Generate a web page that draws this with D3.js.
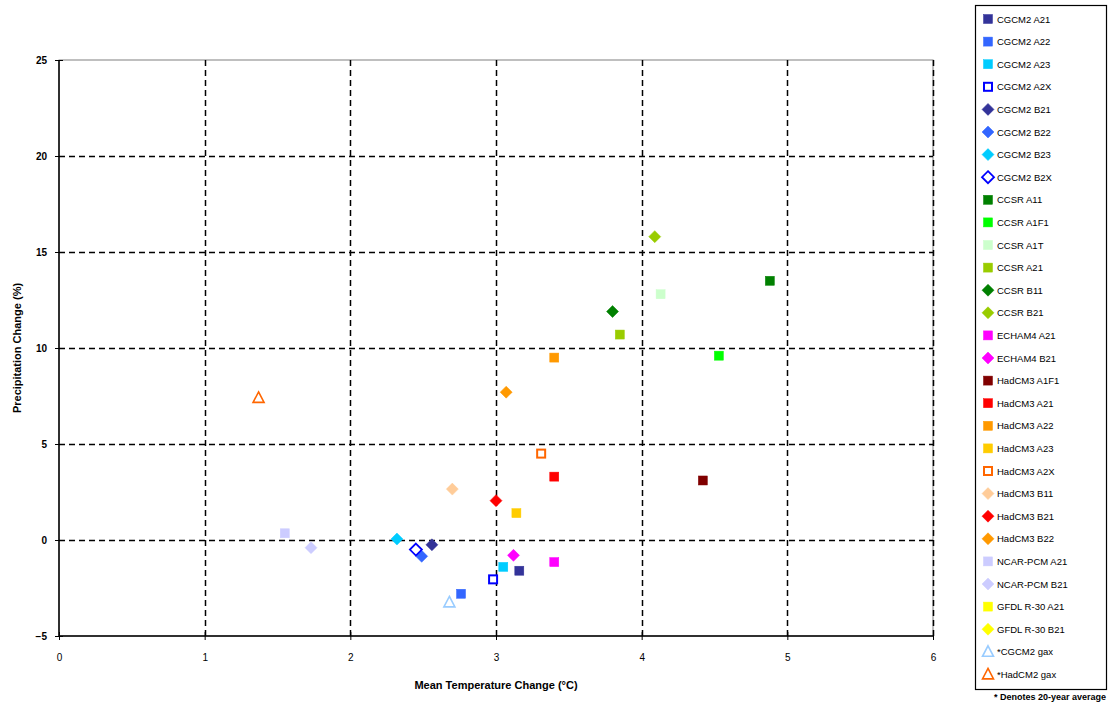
<!DOCTYPE html>
<html>
<head>
<meta charset="utf-8">
<script src="https://cdn.jsdelivr.net/npm/d3@7"></script>
<style>
  body { margin: 0; background: #fff; }
  svg { display: block; font-family: "Liberation Sans", Arial, sans-serif; }
</style>
</head>
<body>
<svg id="chart" width="1110" height="705"></svg>
<script>
//Series names, in legend order
var seriesNames = ["CGCM2 A21", "CGCM2 A22", "CGCM2 A23", "CGCM2 A2X", "CGCM2 B21", "CGCM2 B22", "CGCM2 B23", "CGCM2 B2X",
    "CCSR A11", "CCSR A1F1", "CCSR A1T", "CCSR A21", "CCSR B11", "CCSR B21", "ECHAM4 A21", "ECHAM4 B21",
    "HadCM3 A1F1", "HadCM3 A21", "HadCM3 A22", "HadCM3 A23", "HadCM3 A2X", "HadCM3 B11", "HadCM3 B21", "HadCM3 B22",
    "NCAR-PCM A21", "NCAR-PCM B21", "GFDL R-30 A21", "GFDL R-30 B21", "*CGCM2 gax", "*HadCM2 gax"];

//Mean temperature change (deg C), null where no point is plotted
var tempChange = [3.16, 2.76, 3.05, 2.98, 2.56, 2.49, 2.32, 2.45,
    4.88, 4.53, 4.13, 3.85, 3.80, 4.09, 3.40, 3.12,
    4.42, 3.40, 3.40, 3.14, 3.31, 2.70, 3.00, 3.07,
    1.55, 1.73, null, null, 2.68, 1.37];

//Precipitation change (%)
var precipChange = [-1.6, -2.8, -1.4, -2.05, -0.25, -0.85, 0.05, -0.5,
    13.5, 9.6, 12.8, 10.7, 11.9, 15.8, -1.15, -0.8,
    3.1, 3.3, 9.5, 1.4, 4.5, 2.65, 2.05, 7.7,
    0.35, -0.4, null, null, -3.25, 7.4];

//Marker shape per series: s = square, so = open square, d = diamond, do = open diamond, to = open triangle
var shapes = ["s", "s", "s", "so", "d", "d", "d", "do",
    "s", "s", "s", "s", "d", "d", "s", "d",
    "s", "s", "s", "s", "so", "d", "d", "d",
    "s", "d", "s", "d", "to", "to"];

//Marker colour per series
var colors = ["#333399", "#3366ff", "#00ccff", "#0000ff", "#333399", "#3366ff", "#00ccff", "#0000ff",
    "#008000", "#00ff00", "#ccffcc", "#99cc00", "#008000", "#99cc00", "#ff00ff", "#ff00ff",
    "#800000", "#ff0000", "#ff9900", "#ffcc00", "#ff6600", "#ffcc99", "#ff0000", "#ff9900",
    "#ccccff", "#ccccff", "#ffff00", "#ffff00", "#99ccff", "#ff6600"];

//Axis ticks
var xTicks = [0, 1, 2, 3, 4, 5, 6];
var yTicks = [-5, 0, 5, 10, 15, 20, 25];

(function(){
    var svg = d3.select("#chart");

    //Plot area
    var pLeft = 59, pRight = 933, pTop = 60, pBottom = 636;

    var x = d3.scaleLinear().domain([0, 6]).range([pLeft, pRight]);
    var y = d3.scaleLinear().domain([-5, 25]).range([pBottom, pTop]);

    //Plot border
    svg.append("rect")
        .attr("x", pLeft).attr("y", pTop)
        .attr("width", pRight - pLeft).attr("height", pBottom - pTop)
        .attr("fill", "none").attr("stroke", "#808080").attr("stroke-width", 1);

    //Dashed gridlines
    svg.append("g").selectAll("line").data(xTicks.filter(function(d){ return d > 0; }))
        .enter().append("line")
        .attr("x1", function(d){ return Math.round(x(d)) + 0.5; })
        .attr("x2", function(d){ return Math.round(x(d)) + 0.5; })
        .attr("y1", pTop).attr("y2", pBottom)
        .attr("stroke", "#000").attr("stroke-width", 1.5).attr("stroke-dasharray", "6,4");

    svg.append("g").selectAll("line").data(yTicks.filter(function(d){ return d > -5 && d < 25; }))
        .enter().append("line")
        .attr("y1", function(d){ return Math.round(y(d)) + 0.5; })
        .attr("y2", function(d){ return Math.round(y(d)) + 0.5; })
        .attr("x1", pLeft).attr("x2", pRight)
        .attr("stroke", "#000").attr("stroke-width", 1.5).attr("stroke-dasharray", "6,4");

    //Axes with crossing ticks
    var xAxis = svg.append("g")
        .attr("transform", "translate(0," + pBottom + ")")
        .call(d3.axisBottom(x).tickValues(xTicks).tickSize(4).tickPadding(14).tickFormat(d3.format("d")));
    xAxis.select(".domain").attr("stroke", "#000").attr("stroke-width", 1.5).attr("d", "M" + pLeft + ",0H" + pRight);
    xAxis.selectAll(".tick line").attr("y1", -4).attr("stroke", "#000");
    xAxis.selectAll("text").attr("font-size", 10).attr("fill", "#000");

    var yAxis = svg.append("g")
        .attr("transform", "translate(" + pLeft + ",0)")
        .call(d3.axisLeft(y).tickValues(yTicks).tickSize(4).tickPadding(8).tickFormat(d3.format("d")));
    yAxis.select(".domain").attr("stroke", "#000").attr("stroke-width", 1.5).attr("d", "M0," + pTop + "V" + pBottom);
    yAxis.selectAll(".tick line").attr("x1", 4).attr("stroke", "#000");
    yAxis.selectAll("text").attr("font-size", 10).attr("fill", "#000").attr("font-weight", "bold");

    //Axis titles
    svg.append("text")
        .attr("x", (pLeft + pRight) / 2).attr("y", 689)
        .attr("text-anchor", "middle").attr("font-size", 11).attr("font-weight", "bold")
        .text("Mean Temperature Change (\u00b0C)");

    svg.append("text")
        .attr("transform", "translate(21," + ((pTop + pBottom) / 2) + ") rotate(-90)")
        .attr("text-anchor", "middle").attr("font-size", 11).attr("font-weight", "bold")
        .text("Precipitation Change (%)");

    //Draws one marker into the given selection
    var drawMarker = function(g, shape, color){
        if(shape === "s" || shape === "so"){
            var sz = shape === "s" ? 9 : 8;
            g.append("rect")
                .attr("x", -sz / 2).attr("y", -sz / 2).attr("width", sz).attr("height", sz)
                .attr("fill", shape === "s" ? color : "#fff")
                .attr("stroke", color).attr("stroke-width", shape === "s" ? 0.5 : 2);
        } else if(shape === "d" || shape === "do"){
            g.append("path")
                .attr("d", "M0,-6L6,0L0,6L-6,0Z")
                .attr("fill", shape === "d" ? color : "#fff")
                .attr("stroke", color).attr("stroke-width", shape === "d" ? 0.5 : 1.8);
        } else {
            g.append("path")
                .attr("d", "M0,-6L5.5,4.5L-5.5,4.5Z")
                .attr("fill", "#fff")
                .attr("stroke", color).attr("stroke-width", 1.6);
        }
    };

    //Points
    var points = svg.append("g");
    seriesNames.forEach(function(name, i){
        if(tempChange[i] === null) return;
        var g = points.append("g")
            .attr("transform", "translate(" + x(tempChange[i]) + "," + y(precipChange[i]) + ")");
        drawMarker(g, shapes[i], colors[i]);
    });

    //Legend
    var legX = 975, legY = 5, legW = 131, legH = 684, legStep = 22.6;
    svg.append("rect")
        .attr("x", legX + 0.5).attr("y", legY + 0.5).attr("width", legW).attr("height", legH)
        .attr("fill", "#fff").attr("stroke", "#000").attr("stroke-width", 1.2);

    seriesNames.forEach(function(name, i){
        var ly = 19 + i * legStep;
        var g = svg.append("g").attr("transform", "translate(988," + ly + ")");
        drawMarker(g, shapes[i], colors[i]);
        svg.append("text")
            .attr("x", 997).attr("y", ly + 3.5)
            .attr("font-size", 9.5).attr("fill", "#000")
            .text(name);
    });

    //Footnote
    svg.append("text")
        .attr("x", 1106).attr("y", 700)
        .attr("text-anchor", "end").attr("font-size", 9).attr("font-weight", "bold")
        .text("* Denotes 20-year average");
})();
</script>
</body>
</html>
